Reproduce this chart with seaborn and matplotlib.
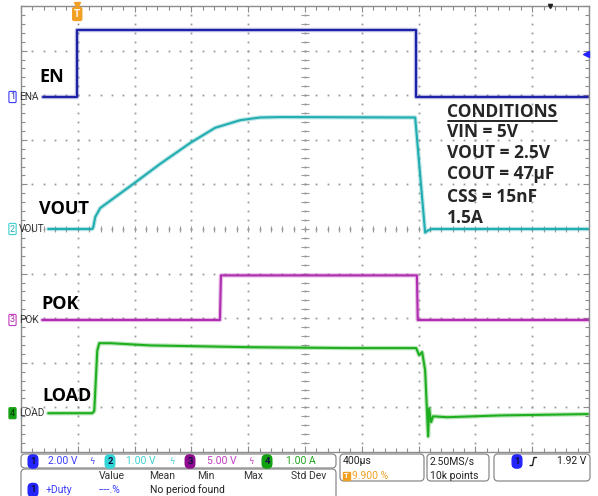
import numpy as np
import pandas as pd
import matplotlib
matplotlib.use("Agg")
import matplotlib.pyplot as plt
import seaborn as sns
from matplotlib.patches import FancyBboxPatch

# time in microseconds (0 = trigger), values in channel units
en_t = [-240, 0, 0, 2385, 2385, 3600]
en_v = [0, 0, 3.0, 3.0, 0, 0]

vout_t = [-204, 106, 113, 127, 162, 373, 584, 796, 972, 1148, 1288, 1429,
          2380, 2450, 2471, 2499, 3597]
vout_v = [0, 0, 0.04, 0.27, 0.47, 0.96, 1.46, 1.93, 2.27, 2.44, 2.50, 2.51,
          2.50, -0.08, -0.03, 0, 0]

pok_t = [-246, 1005, 1012, 2392, 2398, 3600]
pok_v = [0, 0, 5.0, 5.0, 0, 0]

load_t = [-204, 106, 120, 141, 155, 232, 514, 1218, 1922, 2387, 2408, 2429,
          2450, 2471, 2478, 2492, 2506, 2605, 2978, 3597]
load_a = [0, 0, 0.05, 1.40, 1.57, 1.57, 1.52, 1.48, 1.46, 1.46, 1.30, 1.37,
          0.96, -0.52, 0.11, -0.20, -0.07, -0.09, -0.05, -0.02]

ch_names = ["EN", "VOUT", "POK", "LOAD"]
ch_tags = ["ENA", "VOUT", "POK", "LOAD"]
ch_scale = [2.0, 1.0, 5.0, 1.0]       # units / div
ch_units = ["V", "V", "V", "A"]
ch_pos = [7.96, 5.0, 2.96, 0.87]      # ground level, divisions from bottom
ch_colors = ["#1e22a6", "#22adb0", "#b02cb0", "#1fae1f"]
ch_text_colors = ["#3c3cff", "#3fd0d0", "#c23cc2", "#1ea51e"]
ch_badge = ["#2424ff", "#33d6d6", "#8e0d8e", "#11a011"]

time_div = 400.0      # us / div
trig_pos = 0.99       # divisions from left (9.9 %)
trig_level = 1.92

conditions = ["VIN = 5V", "VOUT = 2.5V", "COUT = 47\u00b5F", "CSS = 15nF", "1.5A"]

W, H = 598, 496
L, R, T, B = 21, 589, 6, 452

sns.set_style("white")
plt.rcParams["font.family"] = ["Roboto", "DejaVu Sans"]

fig = plt.figure(figsize=(W / 100, H / 100), dpi=100)
ax = fig.add_axes([L / W, 1 - B / H, (R - L) / W, (B - T) / H])
ax.set_xlim(0, 10)
ax.set_ylim(0, 10)

grid_c = "#9a9a9a"
sub = np.arange(0, 10.001, 0.2)
for g in range(1, 10):
    ax.plot(np.full_like(sub, g), sub, ls="none", marker="s", ms=1.3, color=grid_c, mew=0)
    ax.plot(sub, np.full_like(sub, g), ls="none", marker="s", ms=1.3, color=grid_c, mew=0)
ax.plot(sub, np.full_like(sub, 5), ls="none", marker="|", ms=5, mew=0.8, color=grid_c)
ax.plot(np.full_like(sub, 5), sub, ls="none", marker="_", ms=6, mew=0.8, color=grid_c)

for s in ax.spines.values():
    s.set_color("#8c8c8c")
    s.set_linewidth(1.0)
ax.set_xticks(range(11))
ax.set_yticks(range(11))
ax.set_xticks(sub, minor=True)
ax.set_yticks(sub, minor=True)
ax.tick_params(which="both", direction="in", top=True, right=True, bottom=True, left=True,
               labelbottom=False, labelleft=False, color="#8c8c8c", width=0.8)
ax.tick_params(which="major", length=4)
ax.tick_params(which="minor", length=3)

traces = [(en_t, en_v), (vout_t, vout_v), (pok_t, pok_v), (load_t, load_a)]
for i, (t, v) in enumerate(traces):
    df = pd.DataFrame({
        "x": np.array(t) / time_div + trig_pos,
        "y": np.array(v) / ch_scale[i] + ch_pos[i],
    })
    sns.lineplot(data=df, x="x", y="y", ax=ax, color=ch_colors[i], lw=3.2, alpha=0.3,
                 estimator=None, sort=False)
    sns.lineplot(data=df, x="x", y="y", ax=ax, color=ch_colors[i], lw=1.5,
                 estimator=None, sort=False)
ax.set_xlabel("")
ax.set_ylabel("")

# overlay in pixel coordinates
ov = fig.add_axes([0, 0, 1, 1], zorder=5)
ov.set_xlim(0, W)
ov.set_ylim(H, 0)
ov.axis("off")
ov.patch.set_alpha(0)


def px(xd):
    return L + xd * (R - L) / 10


def py(yd):
    return B - yd * (B - T) / 10


label_y = [77, 209, 304, 396]
label_x = [39, 39, 41, 42]
for i in range(4):
    yy = py(ch_pos[i])
    fc = ch_badge[i] if i == 3 else "white"
    ov.text(12.5, yy, str(i + 1), color=ch_colors[i] if i < 3 else "#0a3a0a", fontsize=6.5,
            ha="center", va="center",
            bbox=dict(boxstyle="round,pad=0.12", fc=fc, ec=ch_text_colors[i], lw=0.8))
    ov.text(19, yy, ch_tags[i], color="#333333", fontsize=7.2, ha="left", va="center")
    ov.text(label_x[i], label_y[i], ch_names[i], fontsize=13, fontweight="bold",
            family="Open Sans", ha="left", va="center", color="black")

# conditions block
ov.text(447, 112, "CONDITIONS", fontsize=12.5, fontweight="bold", family="Open Sans",
        ha="left", va="center")
ov.plot([448, 557], [121, 121], color="black", lw=1.2)
for k, txt in enumerate(conditions):
    ov.text(447, [132, 153, 174, 197, 218][k], txt, fontsize=12.5, fontweight="bold",
            family="Open Sans", ha="left", va="center")

# trigger markers
orange = "#f2a024"
ov.text(px(trig_pos), 14, "T", fontsize=7, color="white", fontweight="bold", ha="center",
        va="center", bbox=dict(boxstyle="round,pad=0.15", fc=orange, ec=orange))
ov.plot([px(trig_pos)], [5], marker="v", ms=4.5, color=orange)
ov.plot([R - 3], [py(ch_pos[0] + trig_level / ch_scale[0])], marker="<", ms=5,
        color=ch_badge[0])
ov.plot([550], [6], marker="v", ms=3, color="#222222")

# status bar boxes
box_c = "#8a8a8a"
for (x0, y0, x1, y1) in [(21, 454, 336, 468), (21, 469, 336, 505), (340, 454, 424, 481),
                         (427, 454, 489, 481), (494, 454, 590, 481)]:
    ov.add_patch(FancyBboxPatch((x0, y0), x1 - x0, y1 - y0,
                                boxstyle="round,pad=0,rounding_size=4",
                                fc="white", ec=box_c, lw=0.9, clip_on=False))


def badge(x, y, n, color, tcol="#101040"):
    ov.text(x, y, n, fontsize=6.8, color=tcol, ha="center", va="center", fontweight="bold",
            bbox=dict(boxstyle="round,pad=0.22,rounding_size=0.45", fc=color, ec=color))


fs = 7.5
row1, row2, row3 = 461.5, 476, 490
badge_x = [33, 110, 190, 267]
text_x = [48, 126, 207, 286]
sym_x = [92, 172, 251]
for i in range(4):
    badge(badge_x[i], row1, str(i + 1), ch_badge[i])
    ov.text(text_x[i], row1, f"{ch_scale[i]:.2f} {ch_units[i]}", fontsize=fs,
            color=ch_text_colors[i], ha="left", va="center")
    if i < 3:
        ov.text(sym_x[i], row1, "\u03df", fontsize=6, color=ch_text_colors[i],
                ha="center", va="center", family="DejaVu Sans")

for name, xc in zip(["Value", "Mean", "Min", "Max", "Std Dev"], [112, 162, 206, 253, 309]):
    ov.text(xc, row2, name, fontsize=fs, color="#333333", ha="center", va="center")
badge(33, row3, "1", ch_badge[0])
ov.text(46, row3, "+Duty", fontsize=fs, color=ch_text_colors[0], ha="left", va="center")
ov.text(99, row3, "----.%", fontsize=fs, color=ch_text_colors[0], ha="left", va="center")
ov.text(150, row3, "No period found", fontsize=fs, color="#222222", ha="left", va="center")

ov.text(343, row1, f"{time_div:.0f}\u00b5s", fontsize=fs, color="#222222", ha="left", va="center")
ov.text(346.5, row2, "T", fontsize=5.5, color="white", fontweight="bold", ha="center",
        va="center", bbox=dict(boxstyle="square,pad=0.12", fc=orange, ec=orange))
ov.text(352, row2, f"{trig_pos * 10:.3f} %", fontsize=fs, color=orange, ha="left", va="center")

ov.text(430, row1, "2.50MS/s", fontsize=fs, color="#222222", ha="left", va="center")
ov.text(430, row2, "10k points", fontsize=fs, color="#222222", ha="left", va="center")

badge(517, row1, "1", ch_badge[0])
ov.plot([530, 532.5, 534, 536.5], [465.5, 465.5, 457.5, 457.5], color="#222222", lw=1)
ov.text(586, row1, f"{trig_level:.2f} V", fontsize=fs, color="#222222", ha="right", va="center")

fig.savefig("out.png", dpi=100)
